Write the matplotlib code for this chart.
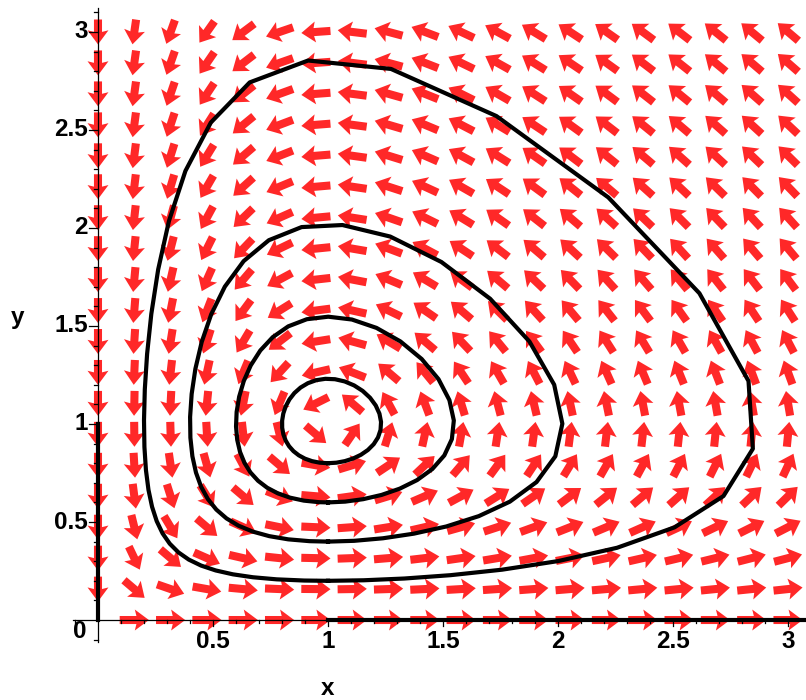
import numpy as np
import matplotlib.pyplot as plt

# predator-prey field: x' = x(1-y), y' = y(x-1)
x_grid = np.linspace(0, 3, 20)
y_grid = np.linspace(0, 3, 20)
orbit_starts = [(1.0, 0.2), (1.0, 0.4), (1.0, 0.6), (1.0, 0.8)]
axis_starts = [(0.0, 1.0), (1.0, 0.0)]
axis_times = [10.0, 3.0]
x_ticks = [0.5, 1, 1.5, 2, 2.5, 3]
y_ticks = [0.5, 1, 1.5, 2, 2.5, 3]
tick_labels = ['0.5', '1', '1.5', '2', '2.5', '3']

dt = 0.18
arrow_len = 0.127
arrow_col = '#ff2828'


def f(p):
    x, y = p
    return np.array([x * (1 - y), y * (x - 1)])


def rk4(p):
    k1 = f(p)
    k2 = f(p + dt / 2 * k1)
    k3 = f(p + dt / 2 * k2)
    k4 = f(p + dt * k3)
    return p + dt / 6 * (k1 + 2 * k2 + 2 * k3 + k4)


def orbit(start):
    p = np.array(start, dtype=float)
    pts = [p]
    total = 0.0
    prev = np.arctan2(p[1] - 1, p[0] - 1)
    for i in range(500):
        p = rk4(p)
        a = np.arctan2(p[1] - 1, p[0] - 1)
        total += (a - prev + np.pi) % (2 * np.pi) - np.pi
        prev = a
        if total >= 2 * np.pi:
            break
        pts.append(p)
    pts.append(np.array(start, dtype=float))
    return np.array(pts)


def ray(start, T):
    p = np.array(start, dtype=float)
    pts = [p]
    for i in range(int(T / dt)):
        p = rk4(p)
        pts.append(p)
    return np.array(pts)


fig = plt.figure(figsize=(8.06, 7), dpi=100)
ax = fig.add_axes([0, 0, 1, 1])
ax.set_xlim(-0.426, 3.078)
ax.set_ylim(-0.408, 3.163)
ax.axis('off')

# direction field, all arrows same length
X, Y = np.meshgrid(x_grid, y_grid)
U = X * (1 - Y)
V = Y * (X - 1)
N = np.hypot(U, V)
mask = N > 0
Xm, Ym = X[mask], Y[mask]
Um = U[mask] / N[mask] * arrow_len
Vm = V[mask] / N[mask] * arrow_len
ax.quiver(Xm, Ym, Um, Vm, color=arrow_col,
          angles='xy', scale_units='xy', scale=1, pivot='middle',
          width=0.0100, headwidth=2.6, headlength=1.75, headaxislength=1.55,
          zorder=2)

# axes lines + ticks
ax.plot([-0.11, 3.078], [0, 0], color='black', lw=0.9, zorder=3)
ax.plot([0, 0], [-0.11, 3.12], color='black', lw=0.9, zorder=3)
for t in np.arange(-0.1, 3.05, 0.1):
    t = round(t, 1)
    if t == 0:
        continue
    major = abs(t * 2 - round(t * 2)) < 1e-6
    ax.plot([t, t], [0, -(6 if major else 3) / 196], color='black', lw=0.9, zorder=3)
for t in np.arange(-0.1, 3.15, 0.1):
    t = round(t, 1)
    if t == 0:
        continue
    major = abs(t * 2 - round(t * 2)) < 1e-6
    ax.plot([0, -(9 if major else 4) / 230], [t, t], color='black', lw=0.9, zorder=3)

fnt = dict(family='Liberation Sans', fontsize=17.5, fontweight='bold')
for v, lab in zip(x_ticks, tick_labels):
    ax.text(v, -0.112, lab, ha='center', va='center', **fnt)
for v, lab in zip(y_ticks, tick_labels):
    ax.text(-0.045, v, lab, ha='right', va='center', **fnt)
ax.text(-0.078, -0.061, '0', ha='center', va='center', **fnt)
ax.text(1.0, -0.347, 'x', ha='center', va='center', **fnt)
ax.text(-0.348, 1.541, 'y', ha='center', va='center', **fnt)

# solution curves
for s in orbit_starts:
    pts = orbit(s)
    ax.plot(pts[:, 0], pts[:, 1], color='black', lw=3, zorder=4)
for s, T in zip(axis_starts, axis_times):
    pts = ray(s, T)
    ax.plot(pts[:, 0], pts[:, 1], color='black', lw=3, zorder=4)

fig.savefig('out.png', dpi=100)
